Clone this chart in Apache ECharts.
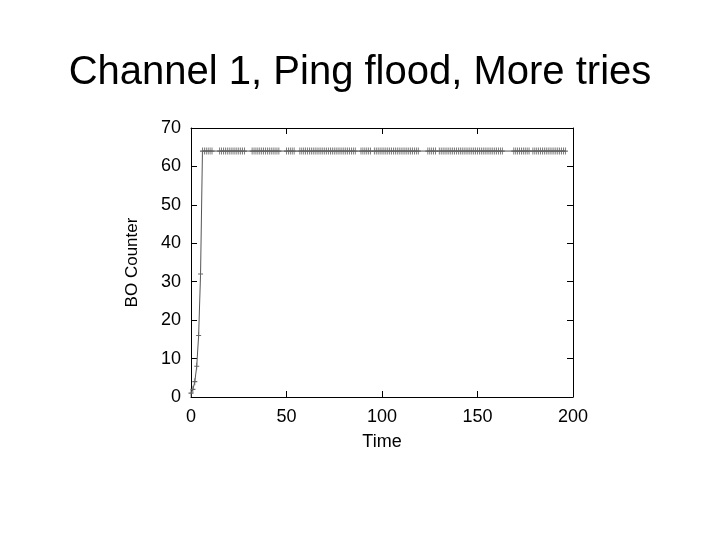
<!DOCTYPE html>
<html>
<head>
<meta charset="utf-8">
<script src="https://cdn.jsdelivr.net/npm/echarts@6/dist/echarts.min.js"></script>
<style>html,body{margin:0;padding:0;background:#fff;}#c{width:720px;height:540px;}</style>
</head>
<body>
<div id="c"></div>
<script>
const titleText = "Channel 1, Ping flood, More tries";
const xName = "Time";
const yName = "BO Counter";
const xTicks = [0, 50, 100, 150, 200];
const yTicks = [0, 10, 20, 30, 40, 50, 60, 70];
// ramp-up of backoff counter
const rampTime = [0, 1, 2, 3, 4, 5, 6];
const rampValue = [1, 2, 4, 8, 16, 32, 64];
// saturated phase sample times (counter stays at 64)
const flatTime = [7, 8, 9, 10, 11, 15, 16, 17, 18, 19, 20, 21, 22, 23, 24, 25, 26, 27, 28,
  32, 33, 34, 35, 36, 37, 38, 39, 40, 41, 42, 43, 44, 45, 46, 50, 51, 52, 53, 54,
  57, 58, 59, 60, 61, 62, 63, 64, 65, 66, 67, 68, 69, 70, 71, 72, 73, 74, 75, 76, 77, 78, 79, 80, 81, 82, 83, 84, 85, 86,
  89, 90, 91, 92, 93, 94, 96, 97, 98, 99, 100, 101, 102, 103, 104, 105, 106, 107, 108, 109, 110, 111, 112, 113, 114, 115, 116, 117, 118, 119,
  124, 125, 126, 127, 128, 130, 131, 132, 133, 134, 135, 136, 137, 138, 139, 140, 141, 142, 143, 144, 145, 146, 147, 148, 149, 150,
  151, 152, 153, 154, 155, 156, 157, 158, 159, 160, 161, 162, 163, 169, 170, 171, 172, 173, 174, 175, 176, 177,
  179, 180, 181, 182, 183, 184, 185, 186, 187, 188, 189, 190, 191, 192, 193, 194, 195, 196];
const flatValue = 64;

const data = rampTime.map((t, i) => [t, rampValue[i]]).concat(flatTime.map(t => [t, flatValue]));

const chart = echarts.init(document.getElementById('c'), null, {renderer: 'canvas'});
const font = 'Liberation Sans, Arial, sans-serif';
const tickLen = 6;
const baseX = {
  type: 'value', min: xTicks[0], max: xTicks[xTicks.length - 1], interval: 50,
  axisLine: {show: true, onZero: false, lineStyle: {color: '#000', width: 1}},
  axisTick: {show: true, inside: true, length: tickLen, lineStyle: {color: '#000'}},
  splitLine: {show: false}
};
const baseY = {
  type: 'value', min: yTicks[0], max: yTicks[yTicks.length - 1], interval: 10,
  axisLine: {show: true, onZero: false, lineStyle: {color: '#000', width: 1}},
  axisTick: {show: true, inside: true, length: tickLen, lineStyle: {color: '#000'}},
  splitLine: {show: false}
};
chart.setOption({
  backgroundColor: '#fff',
  animation: false,
  title: {
    text: titleText, left: 'center', top: 48,
    textStyle: {fontFamily: font, fontSize: 40, fontWeight: 'normal', color: '#000'}
  },
  grid: {left: 191, right: 147, top: 128, bottom: 143, show: false},
  xAxis: [
    Object.assign({}, baseX, {
      position: 'bottom', name: xName, nameLocation: 'middle', nameGap: 36,
      nameTextStyle: {fontFamily: font, fontSize: 18, color: '#000'},
      axisLabel: {fontFamily: font, fontSize: 18, color: '#000', margin: 11}
    }),
    Object.assign({}, baseX, {position: 'top', axisLabel: {show: false}})
  ],
  yAxis: [
    Object.assign({}, baseY, {
      position: 'left', name: yName, nameLocation: 'middle', nameGap: 50, nameRotate: 90,
      nameTextStyle: {fontFamily: font, fontSize: 17, color: '#000'},
      axisLabel: {fontFamily: font, fontSize: 18, color: '#000', margin: 10}
    }),
    Object.assign({}, baseY, {position: 'right', axisLabel: {show: false}})
  ],
  series: [{
    type: 'line',
    data: data,
    xAxisIndex: 0, yAxisIndex: 0,
    lineStyle: {color: '#555', width: 1},
    symbol: 'path://M0,5L10,5M5,0L5,10',
    symbolSize: [5, 7],
    itemStyle: {color: 'rgba(0,0,0,0)', borderColor: '#666', borderWidth: 1},
    showSymbol: true
  }]
});
</script>
</body>
</html>
